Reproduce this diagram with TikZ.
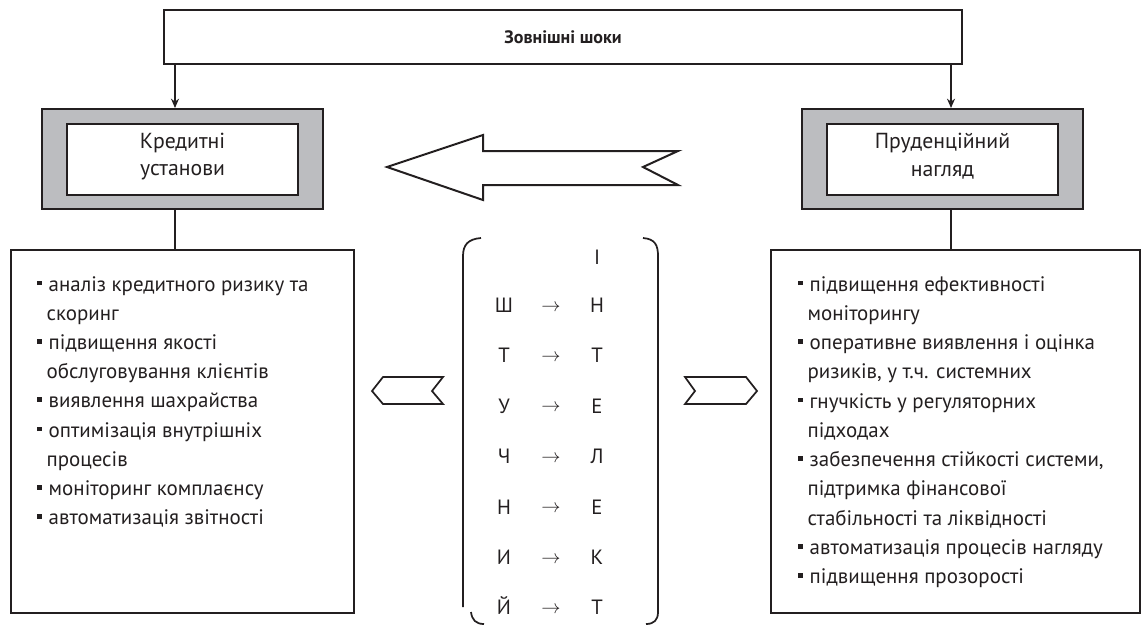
\documentclass[tikz,border=0pt]{standalone}
\usepackage{fontspec}
\setmainfont{PT Sans}
\usetikzlibrary{arrows.meta}
\definecolor{boxgray}{RGB}{188,189,192}
\definecolor{ink}{RGB}{35,31,32}
\newcommand\bul{\makebox[8.6pt][l]{\rule[4.4pt]{3.4pt}{3.4pt}}}
\newcommand\ind{\hspace*{7pt}}
\tikzset{
  framebox/.style={draw=ink, line width=1.5pt, inner sep=0pt},
  graybox/.style={framebox, fill=boxgray, minimum width=210.75pt, minimum height=75pt},
  whitebox/.style={draw=ink, line width=2pt, fill=white, inner sep=0pt, minimum width=173.25pt, minimum height=53.25pt},
  listbox/.style={framebox, minimum height=272.25pt},
  listtxt/.style={anchor=base west, inner sep=0pt, text=ink, font=\fontsize{15.7pt}{18pt}\selectfont},
  boxtxt/.style={inner sep=0pt, text=ink, font=\fontsize{16.3pt}{19pt}\selectfont},
  letter/.style={anchor=base, inner sep=0pt, text=ink, font=\fontsize{15.5pt}{18pt}\selectfont},
  conn/.style={draw=ink, line width=1.1pt},
  arr/.style={conn, -{Stealth[length=7pt,width=6pt]}},
  outl/.style={draw=ink, line width=1.5pt, line join=miter},
  brk/.style={draw=ink, line width=1.3pt}
}
\begin{document}
\begin{tikzpicture}[x=0.75pt,y=-0.75pt]
\useasboundingbox (0,0) rectangle (1148,626);

% top box
\node[framebox, minimum width=598.5pt, minimum height=40.5pt] (shocks) at (563,37) {};
\node[inner sep=0pt, text=ink, font=\bfseries\fontsize{13.5pt}{16pt}\selectfont] (shockstxt) at (563,37) {Зовнішні шоки};

% gray boxes
\node[graybox] (lgray) at (182.5,159) {};
\node[whitebox] (lwhite) at (182.5,159.5) {};
\node[boxtxt] (ltxt1) at (182.5,143) {Кредитні};
\node[boxtxt] (ltxt2) at (182.5,172) {установи};

\node[graybox] (rgray) at (942.5,159) {};
\node[whitebox] (rwhite) at (942.5,159.5) {};
\node[boxtxt] (rtxt1) at (942.5,143) {Пруденційний};
\node[boxtxt] (rtxt2) at (942.5,172) {нагляд};

% list boxes
\node[listbox, minimum width=257.25pt] (llist) at (182.5,431.5) {};
\node[listbox, minimum width=276.75pt] (rlist) at (955.5,431.5) {};

% connectors
\coordinate (lx) at (175,0);
\coordinate (rx) at (951,0);
\draw[arr] (shocks.south -| lx) -- (lgray.north -| lx);
\draw[arr] (shocks.south -| rx) -- (rgray.north -| rx);
\draw[conn] (lgray.south -| lx) -- (llist.north -| lx);
\draw[conn] (rgray.south -| rx) -- (rlist.north -| rx);

% big arrow
\draw[outl] (387,167) -- (483,135) -- (483,151) -- (678,151) -- (643,167)
  -- (678,185) -- (483,185) -- (483,200) -- cycle;

% chevrons
\draw[outl, line width=1.3pt] (372,391) -- (383,377) -- (443,377) -- (432,391) -- (443,404) -- (383,404) -- cycle;
\draw[outl, line width=1.3pt] (685,377) -- (746,377) -- (757,391) -- (746,404) -- (685,404) -- (695,391) -- cycle;

% brackets
\draw[brk] (481,238) .. controls (468,239) and (463,245) .. (463,256) -- (463,607);
\draw[brk] (471,612) .. controls (472,620) and (476,624) .. (484,624);
\draw[brk] (643,238) .. controls (655,239) and (658,245) .. (658,256) -- (658,612)
  .. controls (658,620) and (654,624) .. (646,624);

% letters
\node[letter] (c0) at (597,264.5) {І};
\foreach \a/\b [count=\i] in {Ш/Н,Т/Т,У/Е,Ч/Л,Н/Е,И/К,Й/Т}{
  \node[letter] (a\i) at (504,{305+50.4*(\i-1)+7.5}) {\a};
  \node[letter] (m\i) at (551,{305+50.4*(\i-1)+6}) {\fontsize{15pt}{18pt}\selectfont$\rightarrow$};
  \node[letter] (b\i) at (597,{305+50.4*(\i-1)+7.5}) {\b};
}

% left list
\foreach \t [count=\i] in {
  {\bul аналіз кредитного ризику та},
  {\ind скоринг},
  {\bul підвищення якості},
  {\ind обслуговування клієнтів},
  {\bul виявлення шахрайства},
  {\bul оптимізація внутрішніх},
  {\ind процесів},
  {\bul моніторинг комплаєнсу},
  {\bul автоматизація звітності}}{
  \node[listtxt] (ll\i) at (37,{291+29.2*(\i-1)}) {\t};
}

% right list
\foreach \t [count=\i] in {
  {\bul підвищення ефективності},
  {\ind моніторингу},
  {\bul оперативне виявлення і оцінка},
  {\ind ризиків, у т.ч. системних},
  {\bul гнучкість у регуляторних},
  {\ind підходах},
  {\bul забезпечення стійкості системи,},
  {\ind підтримка фінансової},
  {\ind стабільності та ліквідності},
  {\bul автоматизація процесів нагляду},
  {\bul підвищення прозорості}}{
  \node[listtxt] (rl\i) at (798,{291+29.27*(\i-1)}) {\t};
}
\end{tikzpicture}
\end{document}
